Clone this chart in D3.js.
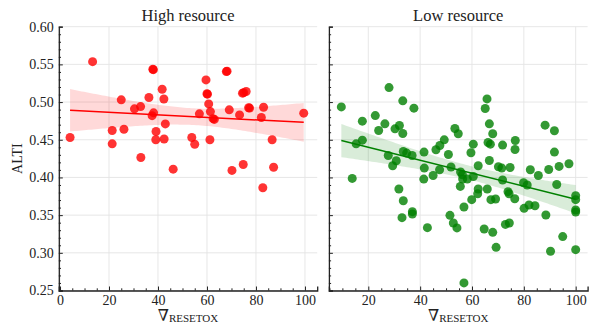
<!DOCTYPE html>
<html><head><meta charset="utf-8">
<script src="https://cdn.jsdelivr.net/npm/d3@7"></script>
<style>body{margin:0;background:#fff}svg{display:block}</style>
</head><body><svg id="c" width="590" height="325"></svg>
<script>
// ---- data ----
const panelTitles = ["High resource", "Low resource"];
const yTicks = [0.25, 0.30, 0.35, 0.40, 0.45, 0.50, 0.55, 0.60];
const xTicksHigh = [0, 20, 40, 60, 80, 100];
const xTicksLow = [20, 40, 60, 80, 100];
const highX = [4.1,13.3,21.3,21.3,25.0,26.1,30.4,32.9,33.0,36.3,37.9,38.1,38.2,37.6,39.2,39.1,41.7,42.4,43.0,42.5,46.2,53.8,55.0,56.9,59.6,60.2,60.0,60.7,61.4,61.2,62.5,63.0,67.9,68.2,69.1,70.2,73.3,74.5,75.0,76.0,77.4,77.0,74.8,82.2,83.1,86.6,82.8,87.2,99.5];
const highY = [0.453,0.5536,0.4623,0.4446,0.503,0.464,0.491,0.494,0.4265,0.506,0.5436,0.543,0.4857,0.482,0.461,0.450,0.517,0.504,0.471,0.451,0.411,0.453,0.444,0.4844,0.5294,0.5105,0.511,0.4976,0.4874,0.450,0.478,0.477,0.5404,0.541,0.4897,0.4093,0.483,0.5118,0.5125,0.514,0.492,0.4925,0.4172,0.4795,0.4932,0.450,0.3864,0.4135,0.4853];
const lowX = [9.6,15.3,17.7,17.7,22.7,24.0,26.4,28.0,27.7,30.3,32.0,33.3,33.3,37.6,33.5,34.8,36.9,41.5,46.1,47.6,49.3,50.9,53.4,54.7,59.6,60.5,65.1,65.8,66.7,68.0,66.2,67.1,66.7,71.8,76.7,76.6,88.2,91.8,91.8,13.8,29.4,30.8,31.8,33.5,33.0,37.0,37.0,41.6,41.4,45.0,47.5,42.8,51.9,51.5,52.8,54.2,55.6,56.3,55.5,56.4,56.9,58.2,59.9,60.5,62.4,62.4,62.2,65.9,64.7,67.3,69.1,68.0,69.3,70.2,71.5,71.8,74.7,73.9,74.3,76.5,72.9,74.4,56.9,79.9,81.3,80.1,82.0,82.5,84.3,85.6,88.5,89.6,90.3,92.7,93.6,95.0,97.4,100,100,100,100,100];
const lowY = [0.4936,0.4446,0.4747,0.4495,0.4821,0.4623,0.4711,0.5192,0.4291,0.4645,0.4689,0.5016,0.4583,0.4919,0.4344,0.4323,0.4291,0.4336,0.4367,0.4424,0.4499,0.4305,0.4649,0.4579,0.4327,0.4442,0.4914,0.5042,0.4711,0.4579,0.4464,0.4442,0.4225,0.4429,0.4490,0.4371,0.4694,0.4619,0.4336,0.3987,0.4155,0.4221,0.3846,0.3691,0.3466,0.3546,0.3515,0.4124,0.3978,0.4026,0.4102,0.3334,0.4138,0.3497,0.3396,0.3330,0.4072,0.4036,0.3881,0.3979,0.3608,0.3979,0.3705,0.4013,0.4155,0.3846,0.3784,0.3846,0.3316,0.3705,0.3714,0.3272,0.3073,0.4142,0.4124,0.3966,0.4132,0.3811,0.3784,0.3718,0.3377,0.3396,0.2601,0.3930,0.3900,0.3590,0.3635,0.4102,0.3625,0.4026,0.3502,0.4106,0.3020,0.3907,0.4146,0.3215,0.4182,0.3758,0.3705,0.3568,0.3542,0.3042];

// ---- layout ----
const svg = d3.select("#c");
const FONT = "'Liberation Serif', 'DejaVu Serif', serif";
const yTop = 26.7, yBot = 290.5;
const y = d3.scaleLinear().domain([0.25, 0.60]).range([yBot, yTop]);
const panels = [
  {title: panelTitles[0], xs: highX, ys: highY, color: "#ff0000", domain: [-0.5, 105], range: [58.8, 317.2], ticks: xTicksHigh, labels: true},
  {title: panelTitles[1], xs: lowX, ys: lowY, color: "#008000", domain: [4.8, 104.6], range: [328.9, 587.6], ticks: xTicksLow, labels: false}
];
const minorY = d3.range(25, 61).map(v => v / 100).filter(v => !yTicks.some(t => Math.abs(t - v) < 1e-9));

function regress(xs, ys) {
  const n = xs.length, mx = d3.mean(xs), my = d3.mean(ys);
  let sxx = 0, sxy = 0;
  for (let i = 0; i < n; i++) { sxx += (xs[i]-mx)**2; sxy += (xs[i]-mx)*(ys[i]-my); }
  const b = sxy / sxx, a = my - b * mx;
  let sse = 0;
  for (let i = 0; i < n; i++) sse += (ys[i] - a - b*xs[i])**2;
  const s = Math.sqrt(sse / (n - 2));
  const t = n > 60 ? 1.98 : 2.01;
  return {a, b, s, t, n, mx, sxx};
}

panels.forEach(p => {
  const x = d3.scaleLinear().domain(p.domain).range(p.range);
  const g = svg.append("g");
  // grid
  g.selectAll(".gx").data(p.ticks).join("line")
    .attr("x1", d => x(d)).attr("x2", d => x(d)).attr("y1", yTop).attr("y2", yBot)
    .attr("stroke", "#e4e4e4").attr("stroke-width", 0.9);
  g.selectAll(".gy").data(yTicks).join("line")
    .attr("x1", p.range[0]).attr("x2", p.range[1]).attr("y1", d => y(d)).attr("y2", d => y(d))
    .attr("stroke", "#e4e4e4").attr("stroke-width", 0.9);

  // regression band + line
  const r = regress(p.xs, p.ys);
  const [xmin, xmax] = d3.extent(p.xs);
  const grid = d3.range(0, 101).map(i => xmin + (xmax - xmin) * i / 100);
  const band = grid.map(v => {
    const yh = r.a + r.b * v;
    const se = r.s * Math.sqrt(1 / r.n + (v - r.mx) ** 2 / r.sxx);
    return {v, lo: yh - r.t * se, hi: yh + r.t * se};
  });
  g.append("path").datum(band)
    .attr("d", d3.area().x(d => x(d.v)).y0(d => y(d.lo)).y1(d => y(d.hi)))
    .attr("fill", p.color).attr("fill-opacity", 0.15);

  // points
  g.selectAll(".pt").data(p.xs.map((v, i) => [v, p.ys[i]])).join("circle")
    .attr("cx", d => x(d[0])).attr("cy", d => y(d[1])).attr("r", 4.5)
    .attr("fill", p.color).attr("fill-opacity", 0.8);

  g.append("line")
    .attr("x1", x(xmin)).attr("x2", x(xmax))
    .attr("y1", y(r.a + r.b * xmin)).attr("y2", y(r.a + r.b * xmax))
    .attr("stroke", p.color).attr("stroke-width", 1.5);

  // axes
  const minorX = d3.range(0, 101, 5).filter(v => v >= p.domain[0] && !p.ticks.includes(v));
  const xa = g.append("g").attr("transform", `translate(0,${yBot})`)
    .call(d3.axisBottom(x).tickValues(p.ticks).tickFormat(d3.format("d")).tickSize(-4).tickPadding(4.5));
  g.append("g").attr("transform", `translate(0,${yBot})`)
    .call(d3.axisBottom(x).tickValues(minorX).tickFormat("").tickSize(-2.2))
    .select(".domain").remove();
  const ya = g.append("g").attr("transform", `translate(${p.range[0]},0)`)
    .call(d3.axisLeft(y).tickValues(yTicks).tickFormat(p.labels ? d3.format(".2f") : "").tickSize(-4).tickPadding(5));
  g.append("g").attr("transform", `translate(${p.range[0]},0)`)
    .call(d3.axisLeft(y).tickValues(minorY).tickFormat("").tickSize(-2.2))
    .select(".domain").remove();
  g.selectAll(".domain").attr("stroke", "#222").attr("stroke-width", 1.3);
  g.selectAll(".tick line").attr("stroke", "#222").attr("stroke-width", 1);
  g.selectAll(".tick text").attr("font-family", FONT).attr("font-size", 14).attr("fill", "#222");

  // title
  const cx = (p.range[0] + p.range[1]) / 2;
  svg.append("text").attr("x", cx).attr("y", 21).attr("text-anchor", "middle")
    .attr("font-family", FONT).attr("font-size", 16.5).attr("fill", "#222").text(p.title);
  // x label
  const xl = svg.append("text").attr("x", cx).attr("y", 321).attr("text-anchor", "middle")
    .attr("font-family", FONT).attr("fill", "#222");
  xl.append("tspan").attr("font-size", 16).text("∇");
  xl.append("tspan").attr("font-size", 11).attr("dy", 1).text("RESETOX");
});

svg.append("text").attr("transform", `translate(22,${(yTop + yBot) / 2}) rotate(-90)`)
  .attr("text-anchor", "middle").attr("font-family", FONT).attr("font-size", 14).attr("fill", "#222").text("ALTI");
</script></body></html>
